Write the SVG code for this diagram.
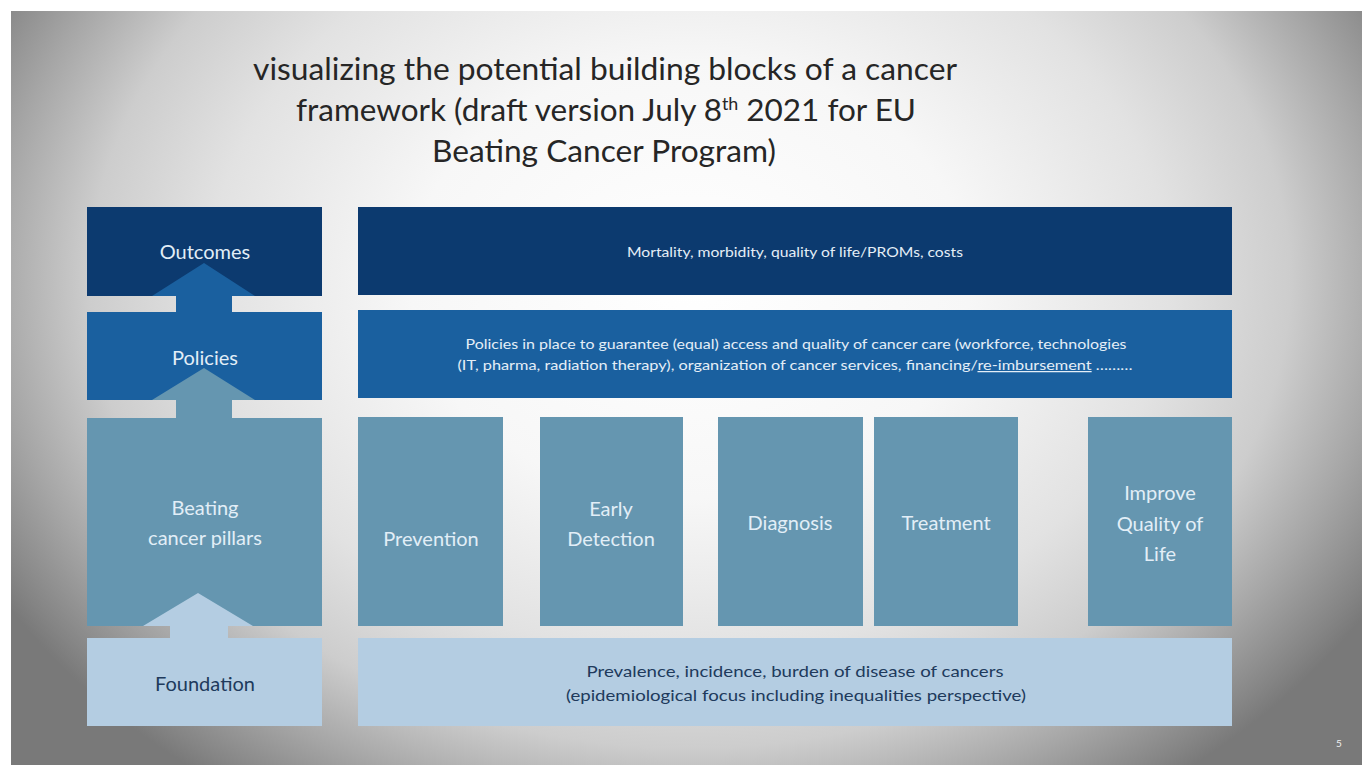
<svg xmlns="http://www.w3.org/2000/svg" width="1362" height="765" viewBox="0 0 1362 765">
  <defs>
    <radialGradient id="bgGrad" gradientUnits="userSpaceOnUse" cx="690" cy="280" r="800" gradientTransform="translate(690 280) scale(1 0.78) translate(-690 -280)">
      <stop offset="0" stop-color="#ffffff"/>
      <stop offset="0.35" stop-color="#f7f7f7"/>
      <stop offset="0.6" stop-color="#e2e2e2"/>
      <stop offset="0.75" stop-color="#cdcdcd"/>
      <stop offset="0.87" stop-color="#a6a6a6"/>
      <stop offset="0.97" stop-color="#848484"/>
      <stop offset="1" stop-color="#797979"/>
    </radialGradient>
    <style>
      .txt { font-family: Lato, "Open Sans", "Liberation Sans", sans-serif; text-anchor: middle; }
      .title { font-size: 30px; fill: #262626; }
      .lbl { font-size: 20px; fill: #e2eef7; }
      .small { font-size: 12.5px; fill: #e4eef7; }
      .dark { fill: #203a5c; }
      .outc { fill: #0c3a6f; }
      .pol { fill: #1a609f; }
      .pil { fill: #6596b0; }
      .fnd { fill: #b4cde2; }
    </style>
  </defs>

  <!-- slide backdrop -->
  <rect x="0" y="0" width="1362" height="765" fill="#ffffff"/>
  <rect x="11" y="11" width="1351" height="754" fill="url(#bgGrad)"/>

  <!-- heading -->
  <g id="title" class="txt title">
    <text x="605" y="80" textLength="704" lengthAdjust="spacingAndGlyphs">visualizing the potential building blocks of a cancer</text>
    <text x="606" y="121" textLength="620" lengthAdjust="spacingAndGlyphs">framework (draft version July 8<tspan font-size="17" dy="-11">th</tspan><tspan dy="11"> 2021 for EU</tspan></text>
    <text x="604" y="162" textLength="344" lengthAdjust="spacingAndGlyphs">Beating Cancer Program)</text>
  </g>

  <!-- left column: layer labels -->
  <g id="outcomes-label">
    <rect class="outc" x="87" y="207" width="235" height="89"/>
    <text class="txt lbl" x="205" y="259">Outcomes</text>
  </g>
  <g id="policies-label">
    <rect class="pol" x="87" y="312" width="235" height="88"/>
    <text class="txt lbl" x="205" y="365">Policies</text>
  </g>
  <g id="pillars-label">
    <rect class="pil" x="87" y="418" width="235" height="208"/>
    <text class="txt lbl" x="205" y="515">Beating</text>
    <text class="txt lbl" x="205" y="545">cancer pillars</text>
  </g>
  <g id="foundation-label">
    <rect class="fnd" x="87" y="638" width="235" height="88"/>
    <text class="txt lbl dark" x="205" y="691">Foundation</text>
  </g>

  <!-- upward arrows linking the layers -->
  <g id="connectors">
    <polygon class="pol" points="204,263 255,296 232,296 232,312 176,312 176,296 152,296"/>
    <polygon class="pil" points="204,368 255,400 232,400 232,418 176,418 176,400 152,400"/>
    <polygon class="fnd" points="198,593 253,626 228,626 228,638 170,638 170,626 143,626"/>
  </g>

  <!-- right side: layer contents -->
  <g id="outcomes">
    <rect class="outc" x="358" y="207" width="874" height="88"/>
    <text class="txt small" x="795" y="257" textLength="336" lengthAdjust="spacingAndGlyphs">Mortality, morbidity, quality of life/PROMs, costs</text>
  </g>
  <g id="policies">
    <rect class="pol" x="358" y="310" width="874" height="88"/>
    <text class="txt small" x="796" y="349" textLength="661" lengthAdjust="spacingAndGlyphs">Policies in place to guarantee (equal) access and quality of cancer care (workforce, technologies</text>
    <text class="txt small" x="795" y="370" textLength="675" lengthAdjust="spacingAndGlyphs">(IT, pharma, radiation therapy), organization of cancer services, financing/<tspan text-decoration="underline">re-imbursement</tspan> ………</text>
  </g>

  <g id="prevention">
    <rect class="pil" x="358" y="417" width="145" height="209"/>
    <text class="txt lbl" x="431" y="546">Prevention</text>
  </g>
  <g id="early-detection">
    <rect class="pil" x="540" y="417" width="143" height="209"/>
    <text class="txt lbl" x="611" y="516">Early</text>
    <text class="txt lbl" x="611" y="546">Detection</text>
  </g>
  <g id="diagnosis">
    <rect class="pil" x="718" y="417" width="145" height="209"/>
    <text class="txt lbl" x="790" y="530">Diagnosis</text>
  </g>
  <g id="treatment">
    <rect class="pil" x="874" y="417" width="144" height="209"/>
    <text class="txt lbl" x="946" y="530">Treatment</text>
  </g>
  <g id="quality-of-life">
    <rect class="pil" x="1088" y="417" width="144" height="209"/>
    <text class="txt lbl" x="1160" y="500">Improve</text>
    <text class="txt lbl" x="1160" y="531">Quality of</text>
    <text class="txt lbl" x="1160" y="561">Life</text>
  </g>

  <g id="foundation">
    <rect class="fnd" x="358" y="638" width="874" height="88"/>
    <text class="txt dark" font-size="16" x="795" y="677" textLength="417" lengthAdjust="spacingAndGlyphs">Prevalence, incidence, burden of disease of cancers</text>
    <text class="txt dark" font-size="16" x="796" y="701" textLength="460" lengthAdjust="spacingAndGlyphs">(epidemiological focus including inequalities perspective)</text>
  </g>

  <!-- slide number -->
  <text class="txt" x="1339" y="747" font-size="10" fill="#f0f0f0">5</text>
</svg>
